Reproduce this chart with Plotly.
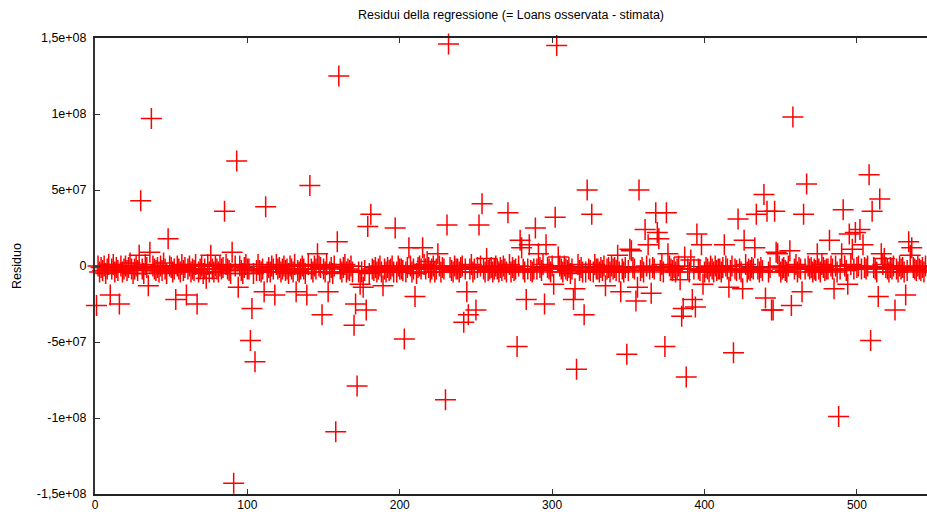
import plotly.graph_objects as go

# Dense band of residuals (millions), observations 1..545
band = [
    -2, 0, -4, -1, -3, 0, -5, -2, 1, -4, -2, 1, -4, -1, -3, -2, 0, -4, -2, 0,
    -3, -1, 2, -2, -5, -2, 0, -3, -4, 0, -2, -5, 1, -1, -3, -2, -4, 0, -2, -3,
    -1, -4, 0, -3, 2, -2, -5, -3, 0, -1, -4, -2, -6, 0, -2, -4, 1, -3, -1, -4,
    -2, 0, -4, -2, -3, 1, -1, -4, -2, 0, -5, -2, -3, 1, -4, -1, -2, -4, 0, -2,
    -4, 0, -2, -1, -3, 1, -2, -3, -5, -1, -2, 0, -4, -2, 0, -3, -5, -1, 1, -2,
    -2, -4, 0, -5, -1, -3, 1, -3, -4, -2, 0, -2, -4, -1, -4, 0, -2, -3, 1, -2,
    -1, -4, -2, 0, -3, -2, -5, 0, -2, -4, 1, -1, -3, -4, -2, 0, -2, -5, -1, 1,
    -3, -2, -4, 0, -2, -4, 0, -1, -3, -2, -4, 1, -2, -4, -1, -5, 0, -2, -3, 0,
    -2, -4, -1, 1, -4, -2, -3, 0, -4, -1, -2, 1, -4, -2, -4, 0, -3, -1, -2, -5,
    0, -2, -3, -1, -4, -2, 0, -4, 1, -2, -4, -1, -3, -2, 0, -4, -2, -4, 0, -2,
    -2, -3, 0, -4, -1, -2, 0, -4, -2, -3, -5, -1, 0, -2, -4, 1, -2, -3, -1, -4,
    -2, 0, -4, -2, -3, 0, -4, -1, -2, -2, -4, 1, -1, -3, -4, 0, -2, -2, -4, -1,
    0, -3, -2, -4, -1, -2, 1, -4, -2, -3, -1, -5, 0, -2, -2, -4, 0, -3, -2, -1,
    -4, -2, 0, -2, -4, -1, -3, 0, -2, -4, -2, 1, -4, -1, -3, -2, -5, 0, -2, -1,
    -2, -4, -1, -2, 0, -3, -4, -2, 0, -2, -4, -1, -3, 1, -2, -4, -1, -2, -4, 0,
    -3, -1, -2, -4, 0, -2, -4, 0, -2, -3, -1, -5, -2, 0, -4, -2, 1, -3, -1, -4,
    -2, -4, 0, -2, -3, -1, -4, 1, -2, -2, -4, -1, -3, 0, -4, -2, -1, -4, 0, -2,
    -1, -3, -2, -4, 0, -2, -4, -1, 1, -3, -2, -4, -1, -2, -5, 0, -2, -3, -1, -4,
    -2, 0, -3, -2, -4, -1, -2, 0, -4, -2, -3, 1, -4, -1, -2, -4, 0, -2, -3, -1,
    -4, -2, 0, -3, -1, -4, -2, 0, -2, -4, -1, -3, -2, 1, -4, -2, -3, 0, -2, -4,
    -1, -2, -4, 0, -2, -4, 0, -3, -2, -2, -4, -1, -5, 0, -2, -2, -3, 0, -4, -2,
    -3, 0, -2, -4, -1, -2, 1, -4, -2, -3, -1, -2, -4, 0, -2, -4, -1, -3, 1, -2,
    -2, -4, -1, -2, -4, 0, -3, -2, 0, -4, -2, -1, -3, -4, 0, -2, -4, -1, -2, 1,
    -4, -1, -2, 0, -3, -2, -4, 0, -2, -1, -4, -2, -3, 0, -2, -4, 1, -1, -3, -2,
    -2, -4, 0, -2, -3, 0, -4, -1, -2, -2, -4, 0, -3, -1, -4, 1, -2, -2, -4, -1,
    0, -3, -2, -4, -1, -2, 0, -4, -2, -3, -1, -2, -4, 0, -2, -4, 1, -3, -1, -2,
    -4, -1, -2, 0, -3, -2, -4, 0, -2, -1, -4, -2, -3, 0, -2, -4, -1, -2, -3, 0,
    -2, -3, -1, -4, 0,
]

# Large residuals: observation number and value (millions)
out_obs = [
    1, 37, 30, 48, 36, 29, 10, 16, 35, 53, 60, 67, 85, 73, 76, 91,
    160, 93, 141, 112, 159, 90, 146, 181, 179, 94, 111, 118, 132, 139, 153, 103,
    149, 171, 170, 102, 105, 172, 158, 174,
    232, 254, 197, 231, 252, 206, 215, 225, 218, 257, 176, 189, 210, 244, 178, 250,
    245, 242, 203, 230,
    303, 323, 271, 302, 326, 289, 279, 280, 285, 296, 291, 304, 343, 351, 357, 301,
    315, 335, 345, 283, 295, 314, 321, 277, 316, 349, 355, 356,
    368, 375, 361, 369, 370, 363, 352, 395, 398, 413, 439, 422, 434, 441, 446, 426,
    433, 376, 387, 391, 447, 365, 384, 399, 416, 425, 392, 394, 386, 385, 440, 445,
    374, 419, 388,
    458, 508, 467, 515, 465, 491, 510, 502, 499, 495, 482, 504, 497, 490, 534, 536,
    535, 456, 474, 448, 516, 518, 464, 485, 494, 514, 532, 457, 525, 509, 488, 444,
]
out_val = [
    -26, 97, 43, 18, 9, 7, -19, -25, -13, -22, -19, -25, 36, -8, 7, -143,
    125, 69, 53, 39, 16, 9, 8, 34, 26, -14, -17, -19, -17, -19, -17, -28,
    -32, -25, -39, -49, -63, -79, -109, -12,
    146, 41, 25, 27, 27, 12, 12, 8, 3, 5, -14, -13, -20, -17, -29, -29,
    -32, -37, -48, -88,
    145, 50, 35, 32, 34, 25, 17, 12, 14, 14, 8, 6, 7, 11, 50, -12,
    -15, -13, -17, -22, -25, -22, -32, -53, -68, -58, -23, -14,
    35, 35, 24, 22, 18, 14, 10, 21, 14, 14, 47, 31, 34, 36, 36, 17,
    12, 8, 6, 4, 9, -18, -9, -12, -14, -15, -22, -27, -28, -33, -21, -29,
    -53, -57, -73,
    98, 60, 54, 44, 34, 37, 36, 24, 22, 21, 17, 14, 11, 8, 16, 12,
    7, 10, 8, 8, 8, 5, -17, -15, -12, -20, -19, -26, -29, -49, -99, -29,
]

x_ticks = [0, 100, 200, 300, 400, 500]
y_ticks = [-1.5e8, -1e8, -5e7, 0, 5e7, 1e8, 1.5e8]
y_tick_text = ["-1,5e+08", "-1e+08", "-5e+07", "0", "5e+07", "1e+08", "1,5e+08"]

obs = list(range(1, len(band) + 1))
resid_m = list(band)
for o, v in zip(out_obs, out_val):
    resid_m[o - 1] = v
resid = [v * 1e6 for v in resid_m]

fig = go.Figure()
fig.add_trace(go.Scatter(
    x=obs, y=resid, mode="markers",
    marker=dict(symbol="cross-thin", size=15, color="rgba(255,0,0,0)",
                line=dict(color="rgb(255,0,0)", width=1.5)),
    showlegend=False, cliponaxis=False,
))

font = "Liberation Sans, Arial, Helvetica, sans-serif"
fig.update_layout(
    width=927, height=512,
    margin=dict(l=95, r=0, t=38, b=18, pad=0),
    paper_bgcolor="white", plot_bgcolor="white",
    font=dict(family=font, size=12.5, color="black"),
    title=dict(text="Residui della regressione (= Loans osservata - stimata)",
               x=0.5, xref="paper", xanchor="center", y=0.972, yanchor="middle",
               font=dict(size=12.5), automargin=False),
    xaxis=dict(range=[0, 546], tickvals=x_ticks, ticks="inside", ticklen=5,
               tickcolor="#333", showline=True, linecolor="#222", linewidth=1.5,
               mirror="ticks", showgrid=False, zeroline=False, automargin=False,
               ticklabelstandoff=-1, tickfont=dict(size=12)),
    yaxis=dict(range=[-1.5e8, 1.5e8], tickvals=y_ticks, ticktext=y_tick_text,
               ticks="inside", ticklen=5, tickcolor="#333", showline=True,
               linecolor="#333", linewidth=2, showgrid=False, automargin=False,
               zeroline=True, zerolinecolor="#444", zerolinewidth=1,
               ticklabelstandoff=4,
               title=dict(text="Residuo", font=dict(size=12.5), standoff=12),
               tickfont=dict(size=12.5)),
)

fig.write_html("out.html", config={"displayModeBar": False},
               post_script="document.body.style.margin='0';document.body.style.overflow='hidden';")
